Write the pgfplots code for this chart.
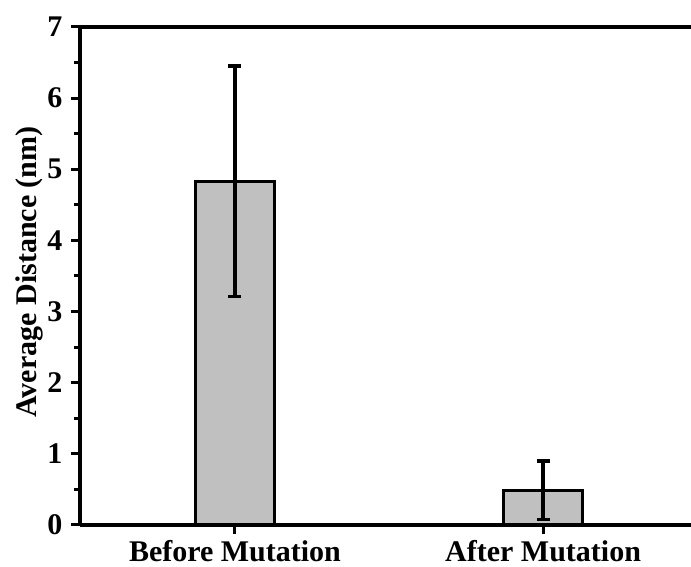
\documentclass[border=0pt]{standalone}
\usepackage{pgfplots}
\pgfplotsset{compat=1.18}
\usepackage{fontspec}
\setmainfont{Liberation Serif}
\definecolor{barfill}{RGB}{192,192,192}
\begin{document}
\begin{tikzpicture}
\useasboundingbox (-80pt,-42pt) rectangle (611pt,525pt);
\begin{axis}[
  scale only axis, width=611pt, height=498pt,
  xmin=-0.503, xmax=1.48, ymin=0, ymax=7,
  axis lines*=left,
  axis line style={line width=3.4pt},
  ytick={0,1,2,3,4,5,6,7}, minor y tick num=1,
  xtick={0,1}, xticklabels={Before Mutation, After Mutation},
  tick align=outside, major tick length=9pt, minor tick length=6pt,
  tick style={line width=3pt, black},
  font=\fontsize{30}{36}\selectfont\bfseries,
  /pgf/number format/assume math mode=true,
  ticklabel style={font=\fontsize{30}{36}\selectfont\bfseries},
  yticklabel style={xshift=-5pt},
  xticklabel style={yshift=-3pt},
  ylabel={Average Distance (nm)},
  ylabel style={at={(axis description cs:-0.083,0.508)}, anchor=center},
  clip=false,
]
\addplot[ybar, bar width=0.256, fill=barfill, draw=black, line width=3.2pt,
  error bars/.cd, y dir=both, y explicit,
  error bar style={line width=3.4pt},
  error mark options={rotate=90, mark size=6.5pt, line width=3.4pt}]
  coordinates {(0,4.83) +- (0,1.62) (1,0.49) +- (0,0.41)};
\draw[line width=3.4pt] (rel axis cs:0,1) -- (rel axis cs:1,1);
\end{axis}
\end{tikzpicture}
\end{document}
